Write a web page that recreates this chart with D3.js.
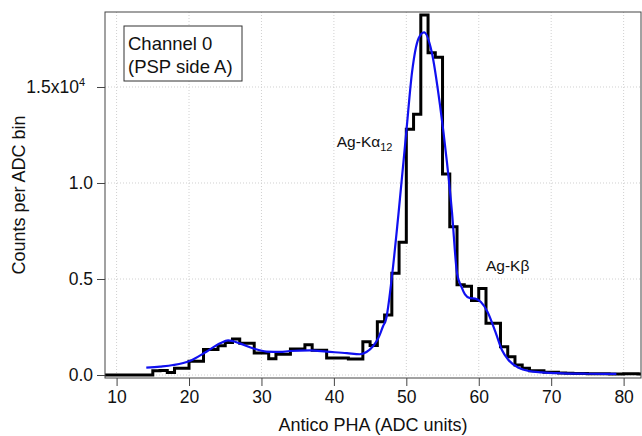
<!DOCTYPE html>
<html><head><meta charset="utf-8">
<script src="https://cdn.jsdelivr.net/npm/d3@7"></script>
<style>
body{margin:0;background:#fff;}
text{font-family:"Liberation Sans",Arial,Helvetica,sans-serif;fill:#111;}
</style></head>
<body><svg id="c" width="642" height="436"></svg>
<script>
// Histogram: counts per 1-ADC bin, bins starting at binStart
const binStart = 8;
const binCounts = [0,0,0,0,0,0,0,
 220,230,130,350,350,720,720,1330,1330,1520,1690,1870,1650,1650,1140,1140,
 850,1080,1080,1360,1360,1580,1290,1290,890,890,890,830,830,1730,1540,
 2780,3130,5300,6920,12800,13580,18750,16790,16550,10470,7720,4700,4620,
 3880,4510,2700,2700,1475,950,520,350,225,225,140,140,100,90,80,80,70,
 60,60,50,50,70,60,50];
// Fit curve
const fitX = [14.1,16,17.8,20.1,22.4,24.3,25.4,27.0,28.9,30.7,32.6,33.9,36.7,39.0,41.8,43.6,44.5,45.4,46.1,46.8,47.2,48.0,48.9,50.0,50.8,51.7,52.45,53.5,54.65,55.6,56.3,57.0,57.6,58.1,58.8,59.5,60.3,61.2,62.3,63.2,64.1,65.5,66.9,68.7,71.5,75,79];
const fitY = [380,440,520,730,1215,1650,1800,1650,1380,1220,1200,1250,1280,1215,1140,1080,1200,1500,1900,2550,2900,5080,8330,12670,15800,17540,17850,16840,14060,11110,8500,5300,4600,4200,4000,3980,3800,3300,2250,1300,780,380,210,140,90,65,55];
const xTicks = [10,20,30,40,50,60,70,80];
const yTicks = [0,5000,10000,15000];
const yTickLabels = ["0.0","0.5","1.0","1.5x10"];
const legendLines = ["Channel 0","(PSP side A)"];

const L=105,R=641,T=12,B=378;
const svg=d3.select("#c");
const x=d3.scaleLinear().domain([8.4,82.4]).range([L,R]);
const y=d3.scaleLinear().domain([-156,18906]).range([B,T]);

// grid
const g=svg.append("g");
g.selectAll(".gx").data(xTicks).join("line")
 .attr("x1",d=>x(d)).attr("x2",d=>x(d)).attr("y1",T).attr("y2",B)
 .attr("stroke","#d0d0d0").attr("stroke-width",1).attr("stroke-dasharray","1,2");
g.selectAll(".gy").data(yTicks).join("line")
 .attr("x1",L).attr("x2",R).attr("y1",d=>y(d)).attr("y2",d=>y(d))
 .attr("stroke","#d0d0d0").attr("stroke-width",1).attr("stroke-dasharray","1,2");

svg.append("clipPath").attr("id","clip").append("rect")
 .attr("x",L).attr("y",T-2).attr("width",R-L).attr("height",B-T+2);

// histogram
const pts=binCounts.map((v,i)=>[binStart+i,v]);
pts.push([binStart+binCounts.length,binCounts[binCounts.length-1]]);
pts[0][0]=8.4;
svg.append("path").attr("clip-path","url(#clip)")
 .attr("d",d3.line().x(d=>x(d[0])).y(d=>y(d[1])).curve(d3.curveStepAfter)(pts))
 .attr("fill","none").attr("stroke","#000").attr("stroke-width",3).attr("stroke-linejoin","miter");

// fit
svg.append("path").attr("clip-path","url(#clip)")
 .attr("d",d3.line().x((d,i)=>x(fitX[i])).y(d=>y(d)).curve(d3.curveMonotoneX)(fitY))
 .attr("fill","none").attr("stroke","#1010f0").attr("stroke-width",2.2);

// frame
svg.append("rect").attr("x",L).attr("y",T).attr("width",R-L).attr("height",B-T)
 .attr("fill","none").attr("stroke","#444").attr("stroke-width",1);

// x axis
const xa=svg.append("g").attr("transform",`translate(0,${B})`)
 .call(d3.axisBottom(x).tickValues(xTicks).tickSize(8).tickSizeOuter(0).tickPadding(5));
xa.select(".domain").remove();
xa.selectAll("line").attr("stroke","#444");
xa.selectAll("text").attr("font-size","17.5px").attr("fill","#111");

// y axis
const ya=svg.append("g").attr("transform",`translate(${L},0)`)
 .call(d3.axisLeft(y).tickValues(yTicks).tickSize(8).tickSizeOuter(0).tickPadding(4)
   .tickFormat((d,i)=>yTickLabels[i]));
ya.select(".domain").remove();
ya.selectAll("line").attr("stroke","#444");
ya.selectAll("text").attr("font-size","17.5px").attr("fill","#111");
ya.selectAll("text").filter((d,i)=>i===3).attr("x",-20).append("tspan")
 .attr("dy","-0.6em").attr("font-size","11px").text("4");

// axis titles
svg.append("text").attr("x",(L+R)/2).attr("y",431).attr("text-anchor","middle")
 .attr("font-size","18px").text("Antico PHA (ADC units)");
svg.append("text").attr("transform","translate(25,195) rotate(-90)").attr("text-anchor","middle")
 .attr("font-size","18px").text("Counts per ADC bin");

// legend box
svg.append("rect").attr("x",124).attr("y",26).attr("width",118).attr("height",55)
 .attr("fill","#fff").attr("stroke","#333").attr("stroke-width",1);
svg.selectAll(".lg").data(legendLines).join("text")
 .attr("x",128).attr("y",(d,i)=>50+i*23).attr("font-size","18.5px").text(d=>d);

// annotations
const a1=svg.append("text").attr("x",x(40.4)).attr("y",y(11900)).attr("font-size","15.5px");
a1.append("tspan").text("Ag-K\u03b1");
a1.append("tspan").attr("dy","4").attr("font-size","11px").text("12");
svg.append("text").attr("x",x(61.0)).attr("y",y(5400)).attr("font-size","15.5px").text("Ag-K\u03b2");
</script></body></html>
